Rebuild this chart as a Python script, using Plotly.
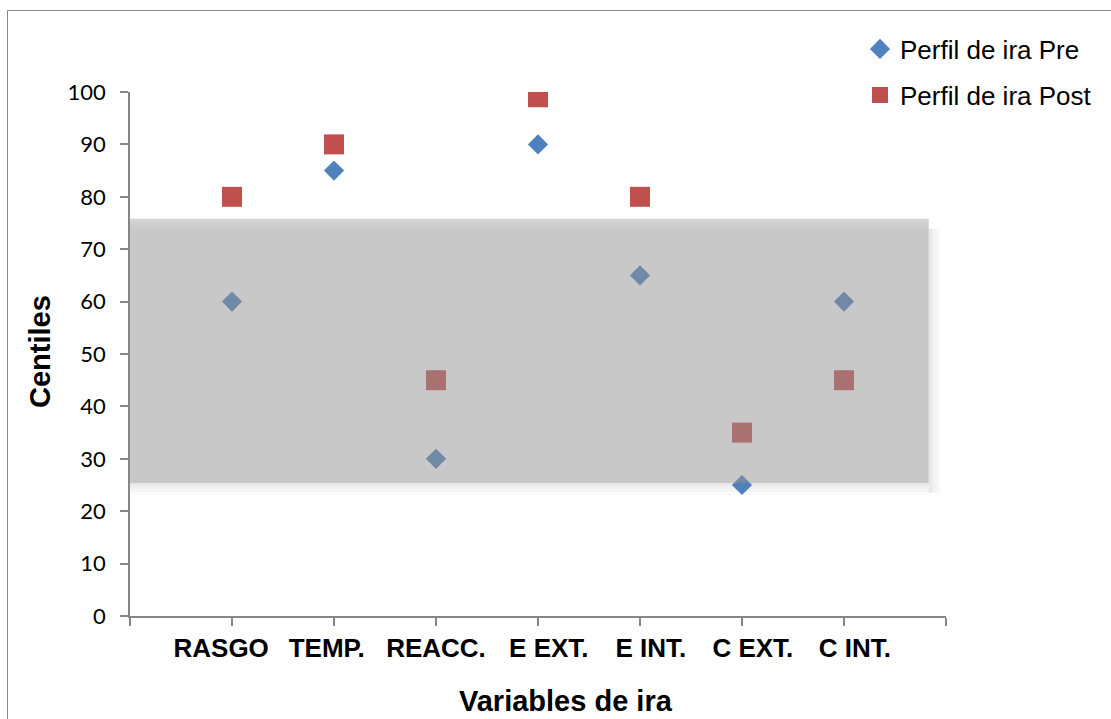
import plotly.graph_objects as go

categories = ["RASGO", "TEMP.", "REACC.", "E EXT.", "E INT.", "C EXT.", "C INT."]
pre_values = [60, 85, 30, 90, 65, 25, 60]
post_values = [80, 90, 45, 99, 80, 35, 45]
band_low, band_high = 25.4, 75.8
y_ticks = list(range(0, 101, 10))

NB = "\u00a0"
# label padding as in the original (trailing/leading spaces)
pads = [(0, 3), (0, 2), (0, 0), (3, 0), (3, 0), (3, 0), (3, 0)]
labels = [NB * a + c + NB * b for c, (a, b) in zip(categories, pads)]
xpos = list(range(1, len(categories) + 1))

W, H = 1111, 719
L, R, T, B = 130, 165, 92, 103
XR = (0, 8)
YR = (0, 100)
pxx = (XR[1] - XR[0]) / (W - L - R)
pxy = (YR[1] - YR[0]) / (H - T - B)

fig = go.Figure()
fig.add_trace(go.Scatter(
    x=xpos, y=pre_values, mode="markers", name="Perfil de ira Pre",
    marker=dict(symbol="diamond", size=15.5, color="#4F81BD", line=dict(width=0)),
    legend="legend"))
fig.add_trace(go.Scatter(
    x=xpos, y=post_values, mode="markers", name="Perfil de ira Post",
    marker=dict(symbol="square", size=20, color="#C0504D", line=dict(width=0)),
    legend="legend2"))

band_x1 = 7.83
shapes = []
# soft shadow (right and bottom)
for i, op in enumerate([0.09, 0.06, 0.04, 0.02]):
    shapes.append(dict(type="rect", xref="x", yref="y", layer="below",
                       x0=band_x1 + i * 3 * pxx, x1=band_x1 + (i + 1) * 3 * pxx,
                       y0=band_low - 10 * pxy, y1=band_high - 10 * pxy,
                       fillcolor=f"rgba(0,0,0,{op})", line=dict(width=0)))
    shapes.append(dict(type="rect", xref="x", yref="y", layer="below",
                       x0=0, x1=band_x1,
                       y0=band_low - (i + 1) * 3 * pxy, y1=band_low - i * 3 * pxy,
                       fillcolor=f"rgba(0,0,0,{op})", line=dict(width=0)))
# main band
shapes.append(dict(type="rect", xref="x", yref="y", layer="above",
                   x0=0, x1=band_x1, y0=band_low, y1=band_high,
                   fillcolor="rgba(145,145,145,0.5)", line=dict(width=0)))
# top highlight
for i, op in enumerate([0.24, 0.17, 0.11, 0.06]):
    shapes.append(dict(type="rect", xref="x", yref="y", layer="above",
                       x0=0, x1=band_x1,
                       y0=band_high - (i + 1) * 2.8 * pxy, y1=band_high - i * 2.8 * pxy,
                       fillcolor=f"rgba(255,255,255,{op})", line=dict(width=0)))
# chart border
shapes.append(dict(type="rect", xref="paper", yref="paper",
                   x0=-(L - 7.5) / (W - L - R), x1=(W - L + 20) / (W - L - R),
                   y0=-(B + 20) / (H - T - B), y1=1 + (T - 10.5) / (H - T - B),
                   line=dict(color="#868686", width=1), fillcolor="rgba(0,0,0,0)"))

fig.update_layout(
    width=W, height=H,
    margin=dict(l=L, r=R, t=T, b=B, autoexpand=False),
    paper_bgcolor="white", plot_bgcolor="white",
    shapes=shapes,
    showlegend=True,
    legend=dict(x=(860 - L) / (W - L - R), y=(H - B - 49) / (H - T - B),
                xanchor="left", yanchor="middle", bgcolor="rgba(0,0,0,0)",
                font=dict(family="Arial, Liberation Sans", size=26, color="black")),
    legend2=dict(x=(860 - L) / (W - L - R), y=(H - B - 95) / (H - T - B),
                 xanchor="left", yanchor="middle", bgcolor="rgba(0,0,0,0)",
                 font=dict(family="Arial, Liberation Sans", size=26, color="black")),
    xaxis=dict(range=list(XR), tickmode="array", automargin=False, tickangle=0,
               tickvals=[0] + xpos + [8], ticktext=[""] + labels + [""],
               showgrid=False, zeroline=False, showline=True,
               linecolor="#868686", linewidth=1.5,
               ticks="outside", ticklen=8, tickcolor="#868686", tickwidth=1.5,
               tickfont=dict(family="Arial, Liberation Sans", size=26, color="black",
                             weight="bold")),
    yaxis=dict(range=list(YR), tickmode="array", tickvals=y_ticks, automargin=False,
               showgrid=False, zeroline=False, showline=True,
               linecolor="#868686", linewidth=1.5,
               ticks="outside", ticklen=8, tickcolor="#868686", tickwidth=1.5,
               ticklabelstandoff=10,
               tickfont=dict(family="Lato", size=22, color="black")),
    annotations=[
        dict(text="<b>Centiles</b>", xref="paper", yref="paper",
             x=(40 - L) / (W - L - R), y=(H - B - 352) / (H - T - B),
             xanchor="center", yanchor="middle", textangle=-90, showarrow=False,
             font=dict(family="Arial, Liberation Sans", size=29, color="black")),
        dict(text="<b>Variables de ira</b>", xref="paper", yref="paper",
             x=(566 - L) / (W - L - R), y=-(701 - (H - B)) / (H - T - B),
             xanchor="center", yanchor="middle", showarrow=False,
             font=dict(family="Arial, Liberation Sans", size=29, color="black")),
    ],
)

fig.write_html("out.html")
